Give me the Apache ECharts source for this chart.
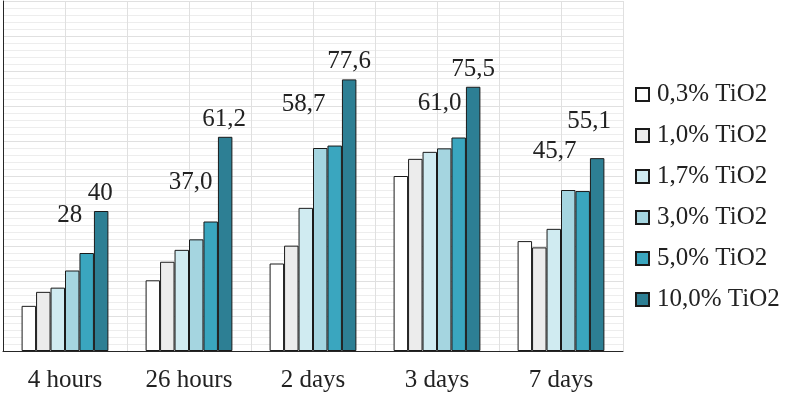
<!DOCTYPE html>
<html>
<head>
<meta charset="utf-8">
<script src="https://cdn.jsdelivr.net/npm/echarts@6/dist/echarts.min.js"></script>
<style>
  html, body { margin: 0; padding: 0; background: #fff; }
  #chart { width: 786px; height: 395px; }
</style>
</head>
<body>
<div id="chart"></div>
<script>
// categories and series
var categories = ['4 hours', '26 hours', '2 days', '3 days', '7 days'];
var seriesNames = ['0,3% TiO2', '1,0% TiO2', '1,7% TiO2', '3,0% TiO2', '5,0% TiO2', '10,0% TiO2'];
var tio2_03 = [12.9, 20.2, 25.0, 50.0, 31.4];
var tio2_10 = [16.9, 25.5, 30.1, 54.9, 29.6];
var tio2_17 = [18.1, 28.9, 40.9, 56.9, 34.9];
var tio2_30 = [23.0, 31.9, 58.0, 57.9, 46.0];
var tio2_50 = [28.0, 37.0, 58.7, 61.0, 45.7];
var tio2_100 = [40.0, 61.2, 77.6, 75.5, 55.1];
// labels written above the 5% and 10% bars
var labels_50 = ['28', '37,0', '58,7', '61,0', '45,7'];
var labels_100 = ['40', '61,2', '77,6', '75,5', '55,1'];

var colors = ['#ffffff', '#ececec', '#d0ebf1', '#a5d5e0', '#3aa6bf', '#2d7f94'];
var FONT = '"Liberation Serif", "DejaVu Serif", serif';
var TXT = '#222222';

// label nudges (annotations in the original are placed by hand)
var shift50 = [[-17, -20], [-20, -22], [-31, -24], [-19, -17], [-28, -22]];
var shift100 = [[-1, 0], [-1, 0], [0, 0], [0, 0], [-8, -19]];

var allValues = [tio2_03, tio2_10, tio2_17, tio2_30, tio2_50, tio2_100];

var withLabels = function(values, texts, shifts) {
    return values.map(function(v, i) {
        return {
            value: v,
            label: {
                show: true,
                position: 'top',
                distance: 5,
                offset: shifts[i],
                formatter: texts[i],
                fontFamily: FONT,
                fontSize: 25,
                color: TXT
            }
        };
    });
};

var series = seriesNames.map(function(name, k) {
    var data = allValues[k];
    if (k == 4) data = withLabels(tio2_50, labels_50, shift50);
    if (k == 5) data = withLabels(tio2_100, labels_100, shift100);
    return {
        name: name,
        type: 'bar',
        xAxisIndex: 0,
        yAxisIndex: 0,
        barGap: '0%',
        barCategoryGap: '30%',
        data: data,
        itemStyle: {
            color: colors[k],
            borderColor: '#1a1a1a',
            borderWidth: 1
        }
    };
});

var chart = echarts.init(document.getElementById('chart'));
var option = {
    animation: false,
    backgroundColor: '#ffffff',
    grid: { left: 3, right: 163, top: 1, bottom: 44 },
    legend: {
        orient: 'vertical',
        left: 630,
        top: 77,
        itemWidth: 13,
        itemHeight: 13,
        itemGap: 16,
        icon: 'rect',
        textStyle: { fontFamily: FONT, fontSize: 25, color: TXT, lineHeight: 25, padding: [0, 0, 0, 3] },
        data: seriesNames
    },
    xAxis: [
        {
            type: 'category',
            data: categories,
            axisLine: { lineStyle: { color: '#262626', width: 1 } },
            axisTick: { alignWithLabel: true, length: 5, lineStyle: { color: '#262626' } },
            axisLabel: { fontFamily: FONT, fontSize: 25, color: TXT, margin: 17 },
            splitLine: { show: false }
        },
        {
            // hidden helper axis for the half-category vertical gridlines
            type: 'value',
            min: 0,
            max: 10,
            interval: 1,
            position: 'top',
            axisLine: { show: false },
            axisTick: { show: false },
            axisLabel: { show: false },
            splitLine: { show: true, lineStyle: { color: '#e0e0e0', width: 1 } }
        }
    ],
    yAxis: {
        type: 'value',
        min: 0,
        max: 100,
        interval: 10,
        axisLine: { show: true, lineStyle: { color: '#262626', width: 1 } },
        axisTick: { show: false },
        axisLabel: { show: false },
        splitLine: { show: true, lineStyle: { color: '#e0e0e0', width: 1 } },
        minorTick: { show: false, splitNumber: 5 },
        minorSplitLine: { show: true, lineStyle: { color: '#ededed', width: 1 } }
    },
    series: series
};
chart.setOption(option);
</script>
</body>
</html>
